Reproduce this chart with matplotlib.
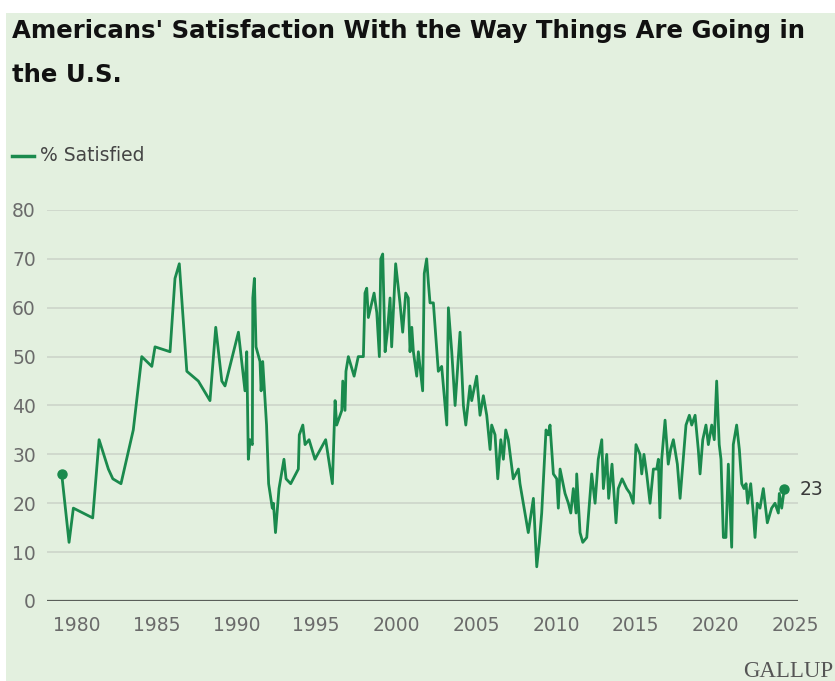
import matplotlib
matplotlib.use("Agg")
import matplotlib.pyplot as plt
from matplotlib.patches import Rectangle

# ---- data ----
years = [
    1979.07, 1979.53, 1979.80, 1981.01, 1981.41, 1981.99, 1982.27, 1982.78, 1983.55, 1984.08,
    1984.71, 1984.91, 1985.85, 1986.16, 1986.43, 1986.90, 1987.62, 1988.35, 1988.71, 1989.09,
    1989.29, 1990.13, 1990.54, 1990.65, 1990.75, 1990.86, 1991.00, 1991.03, 1991.13, 1991.23,
    1991.48, 1991.55, 1991.65, 1991.89, 1992.02, 1992.25, 1992.32, 1992.45, 1992.67, 1992.98,
    1993.11, 1993.40, 1993.88, 1993.94, 1994.16, 1994.30, 1994.55, 1994.92, 1995.59, 1996.01,
    1996.18, 1996.28, 1996.60, 1996.66, 1996.80, 1996.86, 1997.01, 1997.37, 1997.63, 1997.95,
    1998.05, 1998.16, 1998.26, 1998.62, 1998.79, 1998.95, 1999.04, 1999.16, 1999.31, 1999.45,
    1999.62, 1999.72, 1999.97, 2000.24, 2000.41, 2000.60, 2000.76, 2000.87, 2000.98, 2001.08,
    2001.29, 2001.39, 2001.66, 2001.76, 2001.91, 2002.02, 2002.12, 2002.33, 2002.64, 2002.85,
    2003.17, 2003.27, 2003.48, 2003.69, 2004.00, 2004.21, 2004.36, 2004.62, 2004.73, 2005.04,
    2005.25, 2005.46, 2005.67, 2005.88, 2005.98, 2006.19, 2006.36, 2006.55, 2006.71, 2006.86,
    2007.02, 2007.33, 2007.65, 2007.75, 2007.96, 2008.27, 2008.59, 2008.80, 2008.96, 2009.11,
    2009.38, 2009.52, 2009.63, 2009.84, 2010.05, 2010.15, 2010.26, 2010.57, 2010.78, 2010.93,
    2011.09, 2011.26, 2011.30, 2011.51, 2011.68, 2011.93, 2012.24, 2012.45, 2012.65, 2012.87,
    2012.97, 2013.18, 2013.30, 2013.51, 2013.76, 2013.90, 2014.14, 2014.43, 2014.64, 2014.84,
    2015.01, 2015.26, 2015.37, 2015.51, 2015.68, 2015.89, 2016.10, 2016.31, 2016.41, 2016.51,
    2016.62, 2016.83, 2017.03, 2017.18, 2017.35, 2017.60, 2017.77, 2017.97, 2018.14, 2018.35,
    2018.50, 2018.71, 2018.91, 2019.02, 2019.19, 2019.39, 2019.54, 2019.75, 2019.91, 2020.06,
    2020.22, 2020.33, 2020.48, 2020.64, 2020.79, 2021.00, 2021.10, 2021.31, 2021.48, 2021.63,
    2021.77, 2021.90, 2022.00, 2022.19, 2022.35, 2022.46, 2022.60, 2022.77, 2022.98, 2023.23,
    2023.50, 2023.71, 2023.92, 2023.98, 2024.13, 2024.29,
]
satisfied = [
    26, 12, 19, 17, 33, 27, 25, 24, 35, 50,
    48, 52, 51, 66, 69, 47, 45, 41, 56, 45,
    44, 55, 43, 51, 29, 33, 32, 62, 66, 52,
    49, 43, 49, 36, 24, 19, 20, 14, 23, 29,
    25, 24, 27, 34, 36, 32, 33, 29, 33, 24,
    41, 36, 39, 45, 39, 47, 50, 46, 50, 50,
    63, 64, 58, 63, 59, 50, 70, 71, 51, 55,
    62, 52, 69, 61, 55, 63, 62, 51, 56, 51,
    46, 51, 43, 67, 70, 65, 61, 61, 47, 48,
    36, 60, 51, 40, 55, 40, 36, 44, 41, 46,
    38, 42, 38, 31, 36, 34, 25, 33, 29, 35,
    33, 25, 27, 24, 20, 14, 21, 7, 12, 18,
    35, 34, 36, 26, 25, 19, 27, 22, 20, 18,
    23, 18, 26, 14, 12, 13, 26, 20, 29, 33,
    23, 30, 21, 28, 16, 23, 25, 23, 22, 20,
    32, 30, 26, 30, 26, 20, 27, 27, 29, 17,
    29, 37, 28, 31, 33, 28, 21, 29, 36, 38,
    36, 38, 31, 26, 33, 36, 32, 36, 33, 45,
    32, 29, 13, 13, 28, 11, 32, 36, 31, 24,
    23, 24, 20, 24, 18, 13, 20, 19, 23, 16,
    19, 20, 18, 22, 19, 23,
]
x_ticks = [1980, 1985, 1990, 1995, 2000, 2005, 2010, 2015, 2020, 2025]
y_ticks = [0, 10, 20, 30, 40, 50, 60, 70, 80]
series_name = "% Satisfied"
title_line1 = "Americans' Satisfaction With the Way Things Are Going in"
title_line2 = "the U.S."
source = "GALLUP"

# ---- styling ----
BG = "#e3f0df"
GREEN = "#1a8a4d"
GRID = "#cbd3c8"
TICK = "#6b6b6b"
W, H = 835, 681
FONT = "DejaVu Sans"

fig = plt.figure(figsize=(W / 100, H / 100), dpi=100)
fig.patch.set_facecolor("white")
fig.patches.append(Rectangle((6 / W, 0), 1 - 6 / W, 1 - 13 / H, transform=fig.transFigure,
                             facecolor=BG, edgecolor="none", zorder=-10))

ax = fig.add_axes([47 / W, 1 - 601 / H, 751 / W, 391 / H])
ax.set_facecolor("none")
ax.set_xlim(1978.15, 2025.15)
ax.set_ylim(0, 80)

ax.plot(years, satisfied, color=GREEN, lw=2.0, solid_joinstyle="round", zorder=3, clip_on=False)
ax.plot([years[0], years[-1]], [satisfied[0], satisfied[-1]], "o", color=GREEN, ms=6.5,
        zorder=4, clip_on=False)
ax.annotate(str(satisfied[-1]), (years[-1], satisfied[-1]), xytext=(11, -1),
            textcoords="offset points", ha="left", va="center", fontsize=13.5,
            family=FONT, color="#3a3a3a")

for s in ax.spines.values():
    s.set_visible(False)
ax.set_yticks(y_ticks)
ax.set_xticks(x_ticks)
ax.tick_params(axis="both", length=0, labelsize=13.5, labelcolor=TICK)
ax.tick_params(axis="y", pad=8)
ax.tick_params(axis="x", pad=11)
for lab in ax.get_xticklabels() + ax.get_yticklabels():
    lab.set_family(FONT)
ax.grid(axis="y", color=GRID, lw=1.1)
ax.set_axisbelow(True)
ax.axhline(0, color="#5a5f5a", lw=1.6, zorder=2)

# title
fig.text(12 / W, 1 - 38 / H, title_line1, fontsize=17.6, fontweight="bold",
         family=FONT, color="#111111", va="baseline", ha="left")
fig.text(12 / W, 1 - 82.5 / H, title_line2, fontsize=17.6, fontweight="bold",
         family=FONT, color="#111111", va="baseline", ha="left")

# legend
fig.add_artist(plt.Line2D([12 / W, 34 / W], [1 - 156 / H, 1 - 156 / H], color=GREEN, lw=2.5,
                          transform=fig.transFigure))
fig.text(40 / W, 1 - 161 / H, series_name, fontsize=13.5, family=FONT,
         color="#444444", va="baseline", ha="left")

# source
fig.text(833 / W, 1 - 677 / H, source, fontsize=16.5, family="Liberation Serif",
         color="#555555", va="baseline", ha="right")

fig.savefig("out.png", dpi=100, facecolor=fig.get_facecolor())
